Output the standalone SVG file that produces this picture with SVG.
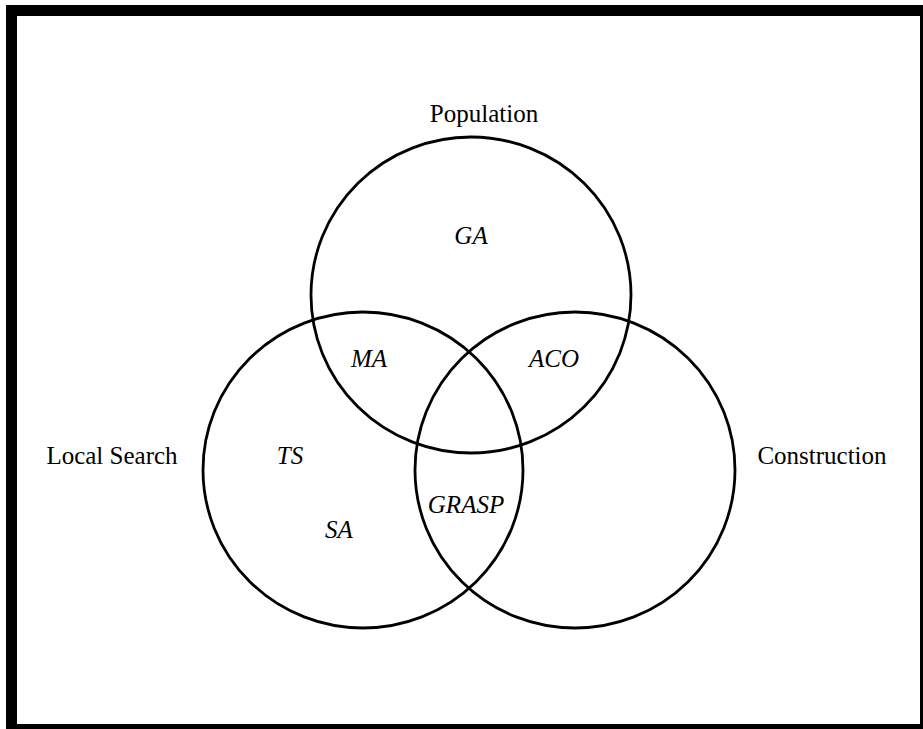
<svg xmlns="http://www.w3.org/2000/svg" width="923" height="729" viewBox="0 0 923 729">
<style>
.set{fill:none;stroke:#000;stroke-width:2.8}
.lbl{font-family:"Liberation Serif","Times New Roman",serif;font-size:25px;fill:#000;text-anchor:middle}
.it{font-style:italic}
</style>
<rect width="923" height="729" fill="#fff"/>
<g id="frame" fill="#000">
<rect x="6" y="5" width="917" height="11"/>
<rect x="6" y="5" width="11" height="724"/>
<rect x="6" y="724" width="917" height="5"/>
<rect x="920" y="5" width="3" height="724"/>
</g>
<g id="population">
<ellipse class="set" cx="471" cy="295" rx="160" ry="158"/>
<text class="lbl" x="484" y="122">Population</text>
</g>
<g id="local-search">
<ellipse class="set" cx="363" cy="470" rx="160" ry="158"/>
<text class="lbl" x="112" y="464">Local Search</text>
</g>
<g id="construction">
<ellipse class="set" cx="575" cy="470" rx="160" ry="158"/>
<text class="lbl" x="822" y="464">Construction</text>
</g>
<g id="labels">
<text class="lbl it" x="471" y="244">GA</text>
<text class="lbl it" x="369" y="367">MA</text>
<text class="lbl it" x="554" y="367">ACO</text>
<text class="lbl it" x="290" y="464">TS</text>
<text class="lbl it" x="339" y="538">SA</text>
<text class="lbl it" x="466" y="513">GRASP</text>
</g>
</svg>
